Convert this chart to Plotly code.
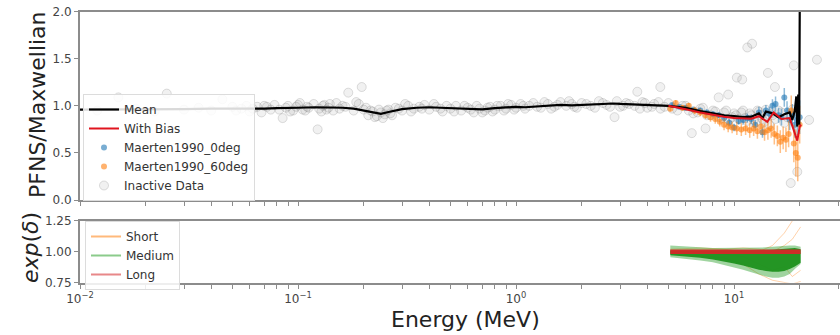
import plotly.graph_objects as go

# ---------------- data ----------------
mean_E = [0.01, 0.015, 0.02, 0.03, 0.04, 0.05, 0.06, 0.07, 0.08, 0.09, 0.1, 0.12, 0.14, 0.16, 0.18,
          0.2, 0.22, 0.24, 0.26, 0.28, 0.3, 0.35, 0.4, 0.45, 0.5, 0.6, 0.7, 0.8, 0.9, 1.0, 1.1, 1.2,
          1.4, 1.6, 1.8, 2.0, 2.2, 2.5, 2.8, 3.0, 3.5, 4.0, 4.5, 5.0, 5.5, 6.0, 7.0, 8.0, 9.0, 10.0,
          11.0, 12.0, 12.5, 13.0, 13.5, 14.0, 15.0, 16.0, 17.0, 18.0, 18.5, 19.0, 19.3, 19.5, 19.7,
          19.9, 20.2]
mean_V = [0.96, 0.96, 0.965, 0.965, 0.97, 0.97, 0.965, 0.97, 0.975, 0.975, 0.98, 0.985, 0.985, 0.98, 0.97,
          0.95, 0.93, 0.915, 0.935, 0.95, 0.965, 0.98, 0.985, 0.98, 0.975, 0.97, 0.962, 0.975, 0.985, 0.99, 0.985, 0.99,
          1.0, 1.01, 1.005, 1.01, 1.02, 1.02, 1.025, 1.02, 1.015, 1.01, 1.005, 1.0, 0.99, 0.98, 0.945, 0.92, 0.9, 0.89,
          0.88, 0.885, 0.9, 0.92, 0.87, 0.94, 0.92, 0.88, 0.91, 0.93, 0.85, 0.95, 1.1, 0.78, 1.12,
          0.8, 4.0]

bias_E = [5.0, 5.5, 6.0, 7.0, 8.0, 9.0, 10.0, 11.0, 12.0, 13.0, 14.2, 15.2, 16.5, 18.0, 19.5, 20.0, 20.3]
bias_V = [1.0, 0.985, 0.965, 0.93, 0.905, 0.885, 0.872, 0.865, 0.864, 0.89, 0.83, 0.93, 0.86, 0.87, 0.63, 0.78, 0.8]

exp0_E = [5.2, 5.6, 6.0, 6.5, 7.0, 7.5, 8.0, 8.5, 9.0, 9.5, 10.0, 10.5, 11.0, 11.5, 12.0, 12.5, 13.0,
          13.5, 14.0, 14.5, 15.0, 15.5, 16.0, 16.5, 17.0, 17.5, 18.0, 18.5, 19.0, 19.5, 20.0]
exp0_V = [1.01, 0.99, 0.98, 0.96, 0.95, 0.93, 0.91, 0.9, 0.87, 0.82, 0.77, 0.84, 0.85, 0.87, 0.86, 0.8, 0.93,
          0.72, 0.95, 0.92, 1.0, 1.02, 0.9, 0.88, 1.09, 0.95, 0.85, 0.9, 0.8, 0.85, 0.88]
exp0_err = [0.02, 0.02, 0.02, 0.02, 0.03, 0.03, 0.03, 0.03, 0.04, 0.04, 0.04, 0.04, 0.05, 0.05, 0.05, 0.05, 0.06,
            0.06, 0.06, 0.07, 0.07, 0.08, 0.08, 0.09, 0.1, 0.1, 0.11, 0.12, 0.14, 0.16, 0.18]

exp60_E = [5.1, 5.4, 5.8, 6.2, 6.6, 7.0, 7.4, 7.8, 8.2, 8.6, 9.0, 9.4, 9.8, 10.3, 10.8, 11.3, 11.8, 12.3,
           12.8, 13.3, 13.8, 14.3, 14.8, 15.3, 15.8, 16.3, 16.8, 17.3, 17.8, 18.3, 18.8, 19.2, 19.6, 20.0]
exp60_V = [0.97, 1.03, 0.98, 1.0, 0.95, 0.93, 0.9, 0.88, 0.86, 0.83, 0.8, 0.78, 0.77, 0.76, 0.75, 0.76, 0.74, 0.76,
           0.73, 0.78, 0.72, 0.74, 0.76, 0.7, 0.68, 0.62, 0.66, 0.64, 0.7, 0.95, 0.6, 0.5, 0.45, 0.8]
exp60_err = [0.03, 0.03, 0.03, 0.03, 0.04, 0.04, 0.04, 0.05, 0.05, 0.05, 0.06, 0.06, 0.06, 0.07, 0.07, 0.07, 0.08,
             0.08, 0.08, 0.09, 0.09, 0.1, 0.1, 0.11, 0.11, 0.12, 0.12, 0.13, 0.14, 0.16, 0.2, 0.25, 0.25, 0.2]

inact_E = [0.012, 0.015, 0.018, 0.022, 0.025, 0.03, 0.035, 0.04, 0.045, 0.05, 0.055, 0.06, 0.065, 0.07,
           0.075, 0.085, 0.09, 0.095, 0.1, 0.105, 0.11, 0.123, 0.13, 0.135, 0.14, 0.155, 0.16, 0.17, 0.18,
           0.19, 0.196, 0.2, 0.21, 0.22, 0.23, 0.24, 0.25, 0.26, 0.27, 0.28, 0.3, 0.32, 0.34, 0.36, 0.38,
           0.4, 0.43, 0.46, 0.5, 0.53, 0.56, 0.6, 0.64, 0.68, 0.72, 0.76, 0.8, 0.85, 0.9, 0.95, 1.0, 1.05,
           1.1, 1.15, 1.2, 1.3, 1.4, 1.5, 1.6, 1.7, 1.8, 1.9, 2.0, 2.2, 2.4, 2.6, 2.83, 3.0, 3.2, 3.5, 3.6,
           3.8, 4.0, 4.3, 4.59, 4.6, 5.0, 5.5, 6.0, 6.4, 6.5, 7.0, 7.4, 7.5, 8.0, 8.5, 8.5, 9.0, 9.4, 9.5,
           10.0, 10.3, 10.5, 10.9, 11.0, 11.5, 11.5, 12.0, 12.1, 12.5, 13.0, 13.5, 14.0, 14.3, 14.5, 15.0,
           15.4, 16.0, 17.0, 18.0, 18.2, 18.8, 19.5, 22.1, 24.0,
           0.052, 0.058, 0.062, 0.068, 0.072, 0.078, 0.082, 0.088, 0.092, 0.098, 0.102, 0.108, 0.112, 0.118,
           0.125, 0.128, 0.132, 0.138, 0.145, 0.15, 0.165, 0.185, 0.205, 0.215, 0.225, 0.235, 0.245, 0.255,
           0.265, 0.29, 0.31, 0.33, 0.37, 0.42, 0.45, 0.48, 0.52, 0.58, 0.62, 0.66, 0.7, 0.74, 0.78, 0.82,
           0.88, 0.92, 0.98, 1.08, 1.25, 1.35, 1.45, 1.55, 1.75, 1.85, 2.1, 2.3, 2.5, 2.7, 2.9, 3.1, 3.3,
           3.7, 3.9, 4.2, 4.5, 4.8, 5.2, 5.8, 6.2, 6.8, 7.2, 7.8, 8.2, 8.8, 9.2, 9.8, 10.2, 10.8, 11.2,
           11.8, 12.3, 12.8, 13.3, 13.8, 14.8, 15.5, 16.5, 17.5, 18.5, 19.2]
inact_V = [0.95, 1.09, 0.97, 0.94, 1.13, 0.96, 0.98, 0.95, 1.07, 0.99, 0.97, 0.94, 0.99, 1.0,
           0.96, 0.87, 1.0, 0.95, 1.01, 0.96, 0.99, 0.75, 1.0, 0.96, 1.02, 0.97, 1.0, 1.14, 0.95,
           1.02, 1.2, 0.96, 0.9, 0.94, 0.89, 0.93, 0.91, 0.96, 0.9, 0.98, 0.95, 1.0, 0.97, 0.99, 1.01,
           0.96, 0.99, 0.94, 0.97, 1.0, 0.95, 0.98, 0.93, 0.97, 0.95, 0.99, 0.96, 1.0, 0.97, 1.01, 0.98, 1.02,
           0.97, 1.0, 1.03, 0.98, 1.02, 0.99, 1.04, 1.0, 1.02, 0.98, 1.03, 1.0, 1.05, 1.01, 0.88, 0.99, 1.03, 1.0, 1.15,
           1.04, 0.98, 1.02, 1.2, 0.97, 1.03, 0.95, 1.0, 0.71, 0.92, 0.97, 0.76, 0.9, 0.95, 0.88, 1.09, 0.93, 1.12, 0.85,
           0.92, 1.3, 0.86, 1.28, 0.95, 0.84, 1.62, 0.9, 1.66, 0.82, 0.94, 0.86, 0.96, 1.35, 0.8, 0.9,
           1.2, 0.95, 0.82, 0.9, 0.18, 1.43, 0.3, 0.85, 1.49,
           0.95, 1.0, 0.97, 0.93, 0.99, 1.01, 0.96, 0.98, 0.94, 0.99, 1.03, 0.95, 0.98, 1.02,
           0.97, 0.94, 1.01, 0.98, 0.95, 1.03, 0.99, 1.04, 0.98, 0.95, 0.88, 0.96, 0.87, 0.95,
           0.92, 0.97, 1.02, 0.94, 0.97, 1.02, 0.97, 1.0, 0.94, 1.0, 0.96, 1.0, 0.93, 0.98, 0.94, 1.0,
           0.95, 1.02, 0.96, 1.0, 0.99, 1.04, 0.97, 1.01, 1.05, 0.99, 1.02, 0.98, 1.03, 0.99, 1.05, 1.0, 1.02,
           0.97, 1.03, 0.99, 1.04, 0.99, 0.97, 1.0, 0.95, 0.93, 0.98, 0.9, 0.94, 0.87, 0.95, 0.88, 0.9, 0.93, 0.87,
           0.92, 0.85, 0.95, 0.9, 0.83, 0.92, 0.86, 0.93, 0.88, 0.96, 0.92]

band_E = [5.1, 6.0, 7.0, 8.0, 9.0, 10.0, 11.0, 12.0, 13.0, 14.0, 15.0, 16.0, 17.0, 18.0, 19.0, 20.2]
medium_out_hi = [1.05, 1.04, 1.035, 1.03, 1.03, 1.03, 1.03, 1.03, 1.03, 1.035, 1.04, 1.045, 1.05, 1.05, 1.05, 1.04]
medium_out_lo = [0.955, 0.945, 0.93, 0.915, 0.895, 0.875, 0.855, 0.835, 0.815, 0.8, 0.79, 0.79, 0.8, 0.82, 0.86, 0.9]
medium_hi = [1.01, 1.01, 1.01, 1.01, 1.01, 1.01, 1.01, 1.01, 1.01, 1.01, 1.015, 1.02, 1.025, 1.03, 1.03, 1.02]
medium_lo = [0.972, 0.962, 0.952, 0.938, 0.922, 0.905, 0.888, 0.87, 0.855, 0.845, 0.838, 0.838, 0.845, 0.86, 0.88, 0.91]
long_hi = [1.018] * 16
long_lo = [0.982] * 16

short_E = [5.1, 7.0, 9.0, 11.0, 13.0, 15.0, 17.0, 18.5, 20.2]
short_1 = [1.02, 1.03, 1.02, 1.0, 1.0, 1.05, 1.15, 1.25, 1.35]
short_2 = [0.99, 0.97, 0.95, 0.9, 0.82, 0.77, 0.75, 0.74, 0.76]
short_3 = [1.0, 0.99, 0.98, 0.96, 0.9, 0.85, 0.88, 0.8, 0.85]
short_4 = [1.01, 1.02, 1.02, 1.03, 1.02, 1.0, 1.05, 1.1, 1.2]

x_major = [0.01, 0.1, 1, 10]
x_major_text = ["10<sup>−2</sup>", "10<sup>−1</sup>", "10<sup>0</sup>", "10<sup>1</sup>"]
top_yticks = [0.0, 0.5, 1.0, 1.5, 2.0]
bot_yticks = [0.75, 1.00, 1.25]

# ---------------- figure ----------------
W, H = 840, 335
FONT = "DejaVu Sans"
fig = go.Figure()

# top panel (legend order given by legendrank)
fig.add_trace(go.Scatter(x=inact_E, y=inact_V, mode="markers", name="Inactive Data",
                         marker=dict(size=9, color="rgba(150,150,150,0.13)",
                                     line=dict(color="rgba(110,110,110,0.22)", width=1)),
                         legend="legend", legendrank=5, xaxis="x", yaxis="y"))
fig.add_trace(go.Scatter(x=exp0_E, y=exp0_V, mode="markers", name="Maerten1990_0deg",
                         marker=dict(size=6, color="rgba(31,119,180,0.6)"),
                         error_y=dict(type="data", array=exp0_err, color="rgba(31,119,180,0.5)",
                                      thickness=1.5, width=0),
                         legend="legend", legendrank=3, xaxis="x", yaxis="y"))
fig.add_trace(go.Scatter(x=exp60_E, y=exp60_V, mode="markers", name="Maerten1990_60deg",
                         marker=dict(size=6, color="rgba(255,127,14,0.6)"),
                         error_y=dict(type="data", array=exp60_err, color="rgba(255,127,14,0.5)",
                                      thickness=1.5, width=0),
                         legend="legend", legendrank=4, xaxis="x", yaxis="y"))
fig.add_trace(go.Scatter(x=mean_E, y=mean_V, mode="lines", name="Mean",
                         line=dict(color="black", width=2.2),
                         legend="legend", legendrank=1, xaxis="x", yaxis="y"))
fig.add_trace(go.Scatter(x=bias_E, y=bias_V, mode="lines", name="With Bias",
                         line=dict(color="#e0141e", width=2),
                         legend="legend", legendrank=2, xaxis="x", yaxis="y"))

# bottom panel
for s in (short_1, short_2, short_3, short_4):
    fig.add_trace(go.Scatter(x=short_E, y=s, mode="lines", showlegend=False,
                             line=dict(color="rgba(255,127,14,0.35)", width=1),
                             xaxis="x2", yaxis="y2"))
fig.add_trace(go.Scatter(x=band_E, y=medium_out_hi, mode="lines", showlegend=False,
                         line=dict(width=0), xaxis="x2", yaxis="y2"))
fig.add_trace(go.Scatter(x=band_E, y=medium_out_lo, mode="lines", showlegend=False, fill="tonexty",
                         fillcolor="rgba(44,160,44,0.45)", line=dict(width=0), xaxis="x2", yaxis="y2"))
fig.add_trace(go.Scatter(x=band_E, y=medium_hi, mode="lines", showlegend=False,
                         line=dict(width=0), xaxis="x2", yaxis="y2"))
fig.add_trace(go.Scatter(x=band_E, y=medium_lo, mode="lines", showlegend=False, fill="tonexty",
                         fillcolor="rgba(30,145,30,0.95)", line=dict(width=0), xaxis="x2", yaxis="y2"))
fig.add_trace(go.Scatter(x=band_E, y=long_hi, mode="lines", showlegend=False,
                         line=dict(width=0), xaxis="x2", yaxis="y2"))
fig.add_trace(go.Scatter(x=band_E, y=long_lo, mode="lines", showlegend=False, fill="tonexty",
                         fillcolor="rgba(214,39,40,0.95)", line=dict(width=0), xaxis="x2", yaxis="y2"))

# legend entries for bottom panel
for rank, (nm, col) in enumerate((("Short", "rgba(255,127,14,0.55)"), ("Medium", "rgba(44,160,44,0.55)"),
                                  ("Long", "rgba(214,39,40,0.55)"))):
    fig.add_trace(go.Scatter(x=[None], y=[None], mode="lines", name=nm,
                             line=dict(color=col, width=2), legend="legend2", legendrank=rank + 1,
                             xaxis="x2", yaxis="y2"))

xmax_log = 1.486
x_minor = []
for d in (0.01, 0.1, 1, 10):
    for m in range(1, 10):
        x_minor.append(round(d * m, 6))
x_minor.append(20)
x_minor.append(30)
tt = []
for v in x_minor:
    if v in x_major:
        tt.append(x_major_text[x_major.index(v)])
    else:
        tt.append("")

axis_common = dict(showline=True, linecolor="#8c8c8c", linewidth=2, ticks="outside",
                   tickcolor="#8c8c8c", ticklen=4, tickwidth=1.3, showgrid=False, zeroline=False,
                   automargin=False, tickfont=dict(family=FONT, size=12, color="#444"))

dom_x = [80 / W, 1.0]
fig.update_layout(
    width=W, height=H, margin=dict(l=0, r=0, t=0, b=0, pad=0),
    paper_bgcolor="white", plot_bgcolor="white",
    font=dict(family=FONT, size=12, color="#333"),
    xaxis=dict(type="log", range=[-2, xmax_log], domain=dom_x, anchor="y", mirror=True,
               tickvals=x_minor, ticktext=tt, showticklabels=False, **axis_common),
    yaxis=dict(range=[0, 2], domain=[1 - 200 / H, 1 - 11.7 / H], anchor="x",
               tickvals=top_yticks, ticktext=["0.0", "0.5", "1.0", "1.5", "2.0"], **axis_common),
    xaxis2=dict(type="log", range=[-2, xmax_log], domain=dom_x, anchor="y2", mirror=True,
                matches="x", tickvals=x_minor, ticktext=tt, **axis_common),
    yaxis2=dict(range=[0.75, 1.25], domain=[1 - 282.7 / H, 1 - 220.7 / H], anchor="x2",
                tickvals=bot_yticks, ticktext=["0.75", "1.00", "1.25"], **axis_common),
    legend=dict(x=83 / W, y=1 - 94 / H, xanchor="left", yanchor="top", traceorder="normal",
                bgcolor="rgba(255,255,255,0.85)", bordercolor="#dcdcdc", borderwidth=1,
                font=dict(family=FONT, size=12, color="#333"), tracegroupgap=0),
    legend2=dict(x=85 / W, y=1 - 221 / H, xanchor="left", yanchor="top", traceorder="normal",
                 bgcolor="rgba(255,255,255,0.85)", bordercolor="#dcdcdc", borderwidth=1,
                 font=dict(family=FONT, size=12, color="#333"), tracegroupgap=0),
    annotations=[
        dict(text="PFNS/Maxwellian", x=37 / W, y=1 - 105 / H, xref="paper", yref="paper",
             xanchor="center", yanchor="middle",
             textangle=-90, showarrow=False, font=dict(family=FONT, size=22, color="#222")),
        dict(text="<i>exp</i>(<i>δ</i>)", x=30 / W, y=1 - 248 / H, xref="paper", yref="paper",
             xanchor="center", yanchor="middle",
             textangle=-90, showarrow=False, font=dict(family=FONT, size=22, color="#222")),
        dict(text="Energy (MeV)", x=465 / W, y=1 - 319 / H, xref="paper", yref="paper",
             xanchor="center", yanchor="middle",
             showarrow=False, font=dict(family=FONT, size=22, color="#222")),
    ],
)

fig.write_html("out.html", config={"displayModeBar": False},
               post_script="document.body.style.margin='0';document.body.style.padding='0';"
                           "document.body.style.overflow='hidden';")
